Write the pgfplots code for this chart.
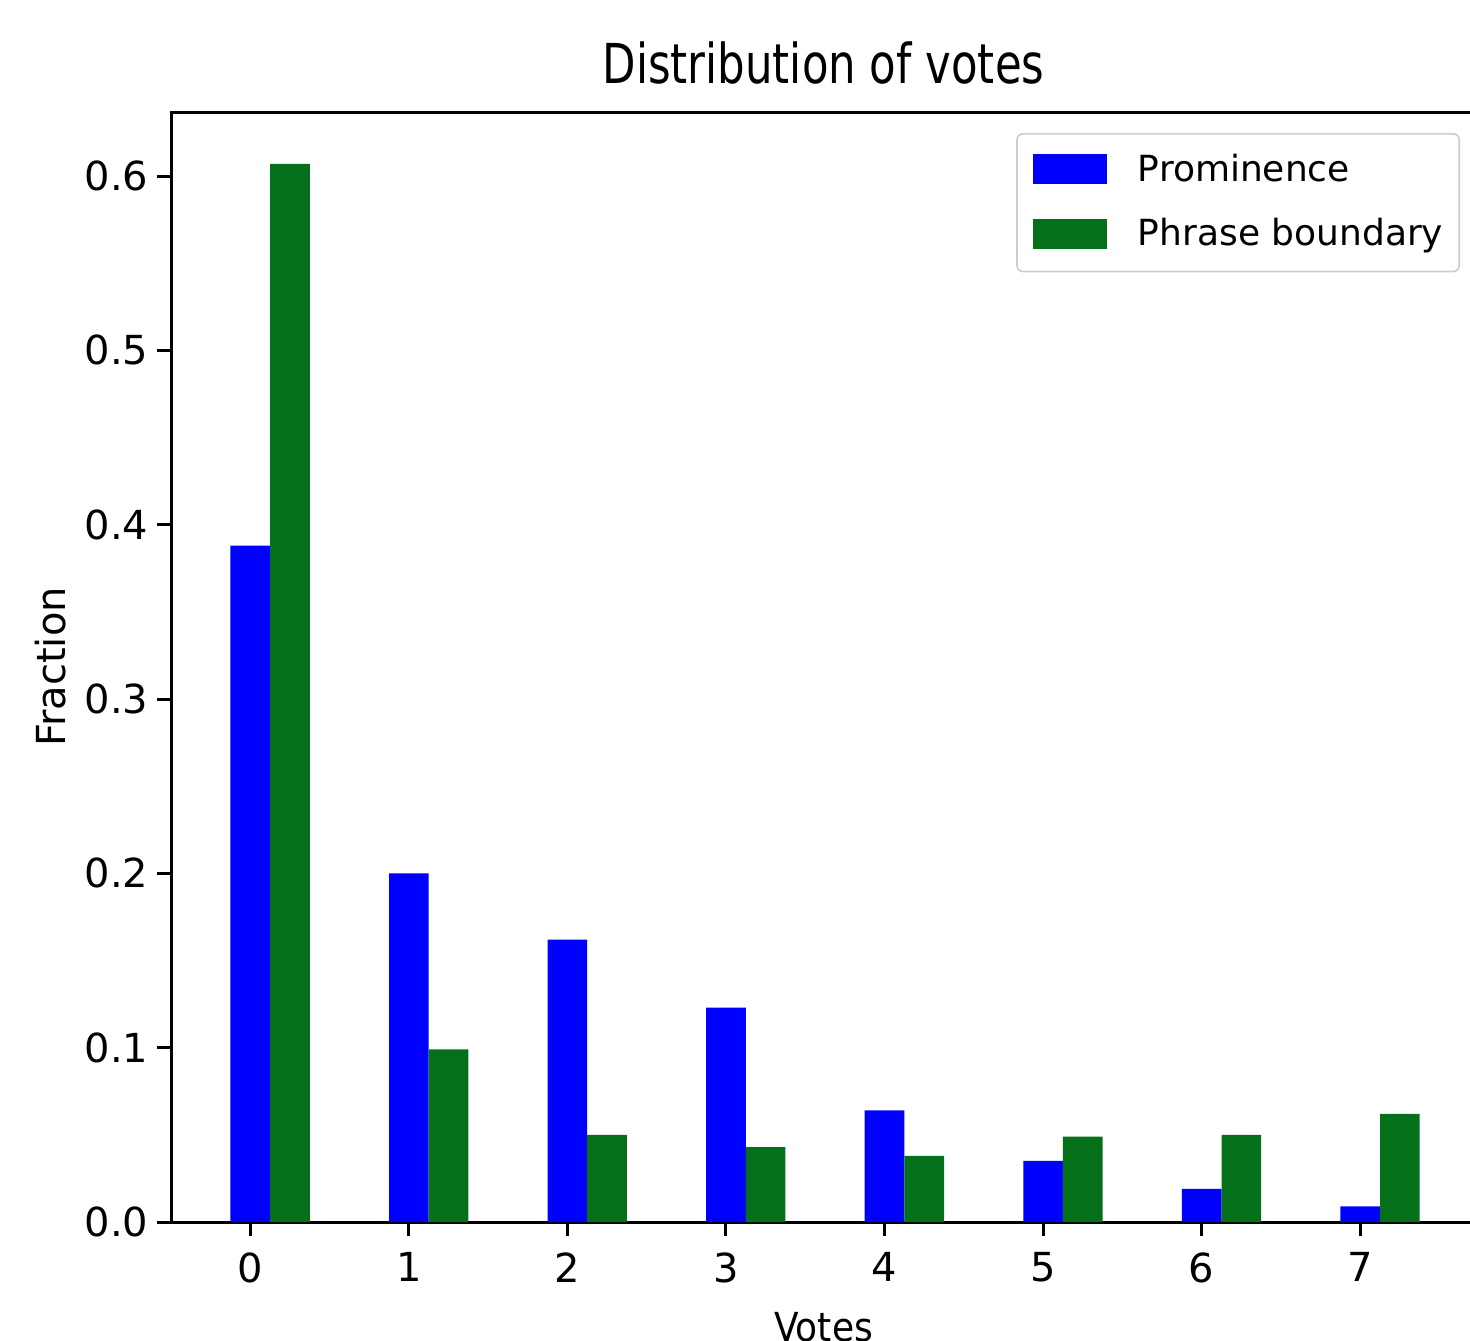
\documentclass[border=0pt]{standalone}
\usepackage{pgfplots}
\pgfplotsset{compat=1.18}
\usepackage{graphicx}
\usepackage{fontspec}
\setmainfont{DejaVu Sans}
\definecolor{mplgreen}{RGB}{4,112,26}
\definecolor{mplblue}{RGB}{0,0,255}
\begin{document}
\begin{tikzpicture}
\useasboundingbox (0pt,0pt) rectangle (367.5pt,-335.25pt);
\clip (0pt,0pt) rectangle (367.5pt,-335.25pt);
\begin{axis}[
  at={(42.75pt,-305.5pt)}, anchor=south west,
  scale only axis, width=326.25pt, height=277.5pt,
  xmin=-0.5, xmax=7.73, ymin=0, ymax=0.6367,
  axis line style={line width=0.75pt},
  every tick/.style={black, line width=0.75pt},
  tick align=outside, major tick length=3.5pt,
  xtick={0,1,2,3,4,5,6,7},
  ytick={0,0.1,0.2,0.3,0.4,0.5,0.6},
  xtick pos=left, ytick pos=left,
  /pgf/number format/assume math mode=true,
  xticklabel={\pgfmathprintnumber{\tick}},
  yticklabel={\pgfmathprintnumber[fixed,fixed zerofill,precision=1]{\tick}},
  tick label style={font=\fontsize{10}{12}\selectfont, inner sep=0pt},
  xticklabel style={yshift=-4pt},
  yticklabel style={xshift=-2pt},
  title={\scalebox{0.79}[1]{Distribution of votes}},
  title style={font=\fontsize{13.75}{16}\selectfont, at={(axis description cs:0.5,1)}, anchor=base, yshift=1.25pt, inner sep=0pt},
  xlabel={\scalebox{0.9}[1]{Votes}},
  xlabel style={font=\fontsize{10}{12}\selectfont, at={(axis description cs:0.5,0)}, anchor=base, yshift=-29.75pt, inner sep=0pt},
  ylabel={Fraction},
  ylabel style={font=\fontsize{10}{12}\selectfont, at={(axis description cs:-0.0812,0.5)}, anchor=base, inner sep=0pt},
  legend cell align=left,
  legend style={at={(axis description cs:1,1)}, anchor=north east, xshift=-4pt, yshift=-5.25pt,
    draw=black!20, rounded corners=1.5pt, fill=white,
    font=\fontsize{9}{10}\selectfont, inner xsep=4pt, inner ysep=5pt, row sep=7.75pt,
    nodes={inner sep=0pt},
    /tikz/every odd column/.append style={column sep=7.75pt}},
]
\addplot[ybar, bar width=0.25, bar shift=0, fill=mplblue, draw=none,
  legend image code/.code={\fill[mplblue, sharp corners] (0pt,-3.5pt) rectangle (18.5pt,4pt);}]
  coordinates {(0,0.388) (1,0.200) (2,0.162) (3,0.123) (4,0.064) (5,0.035) (6,0.019) (7,0.009)};
\addlegendentry{Prominence}
\addplot[ybar, bar width=0.25, bar shift=0.25, fill=mplgreen, draw=none,
  legend image code/.code={\fill[mplgreen, sharp corners] (0pt,-3.5pt) rectangle (18.5pt,4pt);}]
  coordinates {(0,0.607) (1,0.099) (2,0.050) (3,0.043) (4,0.038) (5,0.049) (6,0.050) (7,0.062)};
\addlegendentry{Phrase boundary}
\end{axis}
\end{tikzpicture}
\end{document}
